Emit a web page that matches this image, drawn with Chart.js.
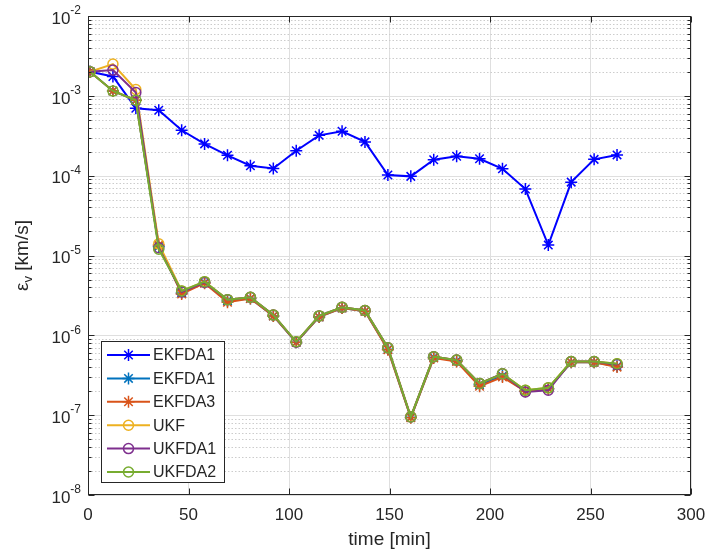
<!DOCTYPE html>
<html>
<head>
<meta charset="utf-8">
<script src="https://cdn.jsdelivr.net/npm/chart.js@4.4.0/dist/chart.umd.min.js"></script>
<style>
  html, body { margin: 0; padding: 0; background: #fff; }
  #wrap { width: 709px; height: 554px; }
</style>
</head>
<body>
<div id="wrap"><canvas id="errChart" width="709" height="554"></canvas></div>
<script>
// sample times [min]
const times = [1, 12.4, 23.8, 35.2, 46.6, 58, 69.4, 80.8, 92.2, 103.6, 115, 126.4,
               137.8, 149.2, 160.6, 172, 183.4, 194.8, 206.2, 217.6, 229, 240.4, 251.8, 263.2];

// velocity error per filter [km/s]
const ekfda1 = [2.0e-3, 1.75e-3, 7.0e-4, 6.6e-4, 3.7e-4, 2.5e-4, 1.8e-4, 1.33e-4, 1.23e-4, 2.05e-4, 3.2e-4, 3.6e-4,
                2.65e-4, 1.02e-4, 9.8e-5, 1.58e-4, 1.75e-4, 1.63e-4, 1.22e-4, 6.8e-5, 1.35e-5, 8.3e-5, 1.6e-4, 1.82e-4];
const ekfda2 = [2.0e-3, 1.15e-3, 8.8e-4, 1.3e-5, 3.4e-6, 4.6e-6, 2.7e-6, 2.9e-6, 1.75e-6, 8.2e-7, 1.7e-6, 2.2e-6,
                2.0e-6, 6.7e-7, 9.4e-8, 5.3e-7, 4.8e-7, 2.4e-7, 3.1e-7, 2.0e-7, 2.15e-7, 4.6e-7, 4.6e-7, 4.1e-7];
const ekfda3 = [2.0e-3, 1.15e-3, 8.8e-4, 1.35e-5, 3.3e-6, 4.5e-6, 2.6e-6, 2.9e-6, 1.75e-6, 8.2e-7, 1.7e-6, 2.2e-6,
                2.0e-6, 6.6e-7, 9.3e-8, 5.2e-7, 4.7e-7, 2.3e-7, 3.0e-7, 2.0e-7, 2.15e-7, 4.6e-7, 4.6e-7, 4.0e-7];
const ukf    = [2.0e-3, 2.5e-3, 1.2e-3, 1.4e-5, 3.6e-6, 4.7e-6, 2.8e-6, 3.0e-6, 1.8e-6, 8.3e-7, 1.75e-6, 2.25e-6,
                2.05e-6, 7.0e-7, 9.6e-8, 5.4e-7, 4.9e-7, 2.5e-7, 3.3e-7, 2.05e-7, 2.2e-7, 4.7e-7, 4.7e-7, 4.4e-7];
const ukfda1 = [2.0e-3, 2.1e-3, 1.1e-3, 1.25e-5, 3.5e-6, 4.6e-6, 2.8e-6, 3.0e-6, 1.8e-6, 8.2e-7, 1.75e-6, 2.25e-6,
                2.05e-6, 7.0e-7, 9.5e-8, 5.4e-7, 4.9e-7, 2.5e-7, 3.3e-7, 1.95e-7, 2.05e-7, 4.7e-7, 4.7e-7, 4.3e-7];
const ukfda2 = [2.0e-3, 1.15e-3, 8.8e-4, 1.2e-5, 3.6e-6, 4.7e-6, 2.8e-6, 3.0e-6, 1.8e-6, 8.3e-7, 1.75e-6, 2.25e-6,
                2.05e-6, 7.0e-7, 9.5e-8, 5.4e-7, 4.9e-7, 2.5e-7, 3.3e-7, 2.05e-7, 2.2e-7, 4.7e-7, 4.7e-7, 4.4e-7];

const seriesNames = ['EKFDA1', 'EKFDA1', 'EKFDA3', 'UKF', 'UKFDA1', 'UKFDA2'];
const xTicks = [0, 50, 100, 150, 200, 250, 300];
const yDecades = [-8, -7, -6, -5, -4, -3, -2];

const seriesValues = [ekfda1, ekfda2, ekfda3, ukf, ukfda1, ukfda2];
const colors = ['#0000FF', '#0072BD', '#D95319', '#EDB120', '#7E2F8E', '#77AC30'];
const markers = ['star', 'star', 'star', 'circle', 'circle', 'circle'];
const FONT = "'Liberation Sans', Arial, sans-serif";
const TEXT = '#262626';

function drawMarker(ctx, style, x, y, color) {
    ctx.save();
    ctx.strokeStyle = color;
    ctx.lineWidth = 1.5;
    ctx.beginPath();
    if (style === 'star') {
        const r = 6, d = r * Math.SQRT1_2;
        ctx.moveTo(x - r, y); ctx.lineTo(x + r, y);
        ctx.moveTo(x, y - r); ctx.lineTo(x, y + r);
        ctx.moveTo(x - d, y - d); ctx.lineTo(x + d, y + d);
        ctx.moveTo(x - d, y + d); ctx.lineTo(x + d, y - d);
    } else {
        ctx.arc(x, y, 5, 0, Math.PI * 2);
    }
    ctx.stroke();
    ctx.restore();
}

// MATLAB-like axes: log grid, inward ticks, box, labels and legend
const matlabAxes = {
    id: 'matlabAxes',
    beforeDatasetsDraw(chart) {
        const {ctx, chartArea: a, scales: {y}} = chart;
        ctx.save();
        for (let d = -8; d < -2; d++) {
            for (let m = 2; m <= 9; m++) {
                const py = Math.round(y.getPixelForValue(m * Math.pow(10, d))) + 0.5;
                ctx.strokeStyle = '#cccccc';
                ctx.lineWidth = 1;
                ctx.setLineDash([1.5, 2]);
                ctx.beginPath();
                ctx.moveTo(a.left, py); ctx.lineTo(a.right, py);
                ctx.stroke();
            }
        }
        ctx.setLineDash([]);
        yDecades.forEach(d => {
            const py = Math.round(y.getPixelForValue(Math.pow(10, d))) + 0.5;
            ctx.strokeStyle = '#dfdfdf';
            ctx.beginPath();
            ctx.moveTo(a.left, py); ctx.lineTo(a.right, py);
            ctx.stroke();
        });
        ctx.restore();
    },
    afterDraw(chart) {
        const {ctx, chartArea: a, scales: {x, y}} = chart;
        ctx.save();
        ctx.strokeStyle = TEXT;
        ctx.lineWidth = 1;
        const L = Math.round(a.left) + 0.5, R = Math.round(a.right) - 0.5;
        const T = Math.round(a.top) + 0.5, B = Math.round(a.bottom) - 0.5;
        ctx.beginPath();
        // ticks on x
        xTicks.forEach(v => {
            const px = Math.round(x.getPixelForValue(v)) + 0.5;
            ctx.moveTo(px, B); ctx.lineTo(px, B - 6);
            ctx.moveTo(px, T); ctx.lineTo(px, T + 6);
        });
        // ticks on y
        for (let d = -8; d <= -2; d++) {
            for (let m = 1; m <= 9; m++) {
                if (d === -2 && m > 1) break;
                const py = Math.round(y.getPixelForValue(m * Math.pow(10, d))) + 0.5;
                const len = m === 1 ? 6 : 3;
                ctx.moveTo(L, py); ctx.lineTo(L + len, py);
                ctx.moveTo(R, py); ctx.lineTo(R - len, py);
            }
        }
        ctx.stroke();
        ctx.strokeRect(L, T, R - L, B - T);

        // y tick labels 10^d
        ctx.fillStyle = TEXT;
        ctx.textBaseline = 'middle';
        ctx.textAlign = 'left';
        yDecades.forEach(d => {
            const py = y.getPixelForValue(Math.pow(10, d));
            ctx.font = '17px ' + FONT;
            const wb = ctx.measureText('10').width;
            ctx.font = '12px ' + FONT;
            const sup = String(d);
            const ws = ctx.measureText(sup).width;
            const x0 = 81 - ws - wb;
            ctx.font = '17px ' + FONT;
            ctx.fillText('10', x0, py + 3);
            ctx.font = '12px ' + FONT;
            ctx.fillText(sup, x0 + wb, py - 5);
        });

        // x title
        ctx.font = '19px ' + FONT;
        ctx.textAlign = 'center';
        ctx.fillText('time [min]', (a.left + a.right) / 2, 540);

        // y title: epsilon_v [km/s]
        ctx.save();
        ctx.translate(23, (a.top + a.bottom) / 2);
        ctx.rotate(-Math.PI / 2);
        ctx.textAlign = 'left';
        ctx.font = '19px ' + FONT;
        const wEps = ctx.measureText('\u03b5').width;
        const wRest = ctx.measureText(' [km/s]').width;
        ctx.font = '13px ' + FONT;
        const wSub = ctx.measureText('v').width;
        let tx = -(wEps + wSub + wRest) / 2;
        ctx.font = '19px ' + FONT;
        ctx.fillText('\u03b5', tx, 0);
        ctx.font = '13px ' + FONT;
        ctx.fillText('v', tx + wEps, 5);
        ctx.font = '19px ' + FONT;
        ctx.fillText(' [km/s]', tx + wEps + wSub, 0);
        ctx.restore();

        // legend box
        const lx = 101.5, ly = 341.5, lw = 123, lh = 141;
        ctx.fillStyle = '#ffffff';
        ctx.fillRect(lx, ly, lw, lh);
        ctx.strokeStyle = TEXT;
        ctx.strokeRect(lx, ly, lw, lh);
        ctx.font = '16px ' + FONT;
        ctx.textAlign = 'left';
        ctx.textBaseline = 'middle';
        seriesNames.forEach((name, i) => {
            const ry = 355 + i * 23.4;
            ctx.strokeStyle = colors[i];
            ctx.lineWidth = 2;
            ctx.beginPath();
            ctx.moveTo(107, ry); ctx.lineTo(150, ry);
            ctx.stroke();
            drawMarker(ctx, markers[i], 128.5, ry, colors[i]);
            ctx.fillStyle = TEXT;
            ctx.fillText(name, 153, ry + 1);
        });
        ctx.restore();
    }
};

new Chart(document.getElementById('errChart'), {
    type: 'line',
    data: {
        datasets: seriesValues.map((vals, i) => ({
            label: seriesNames[i],
            data: times.map((t, k) => ({x: t, y: vals[k]})),
            borderColor: colors[i],
            backgroundColor: colors[i],
            borderWidth: 2,
            pointStyle: markers[i],
            pointRadius: markers[i] === 'star' ? 6 : 5,
            pointBorderWidth: 1.5,
            pointBorderColor: colors[i],
            pointBackgroundColor: 'rgba(0,0,0,0)',
            tension: 0,
            order: seriesNames.length - 1 - i
        }))
    },
    options: {
        responsive: false,
        animation: false,
        devicePixelRatio: 1,
        layout: { padding: { left: 0, right: 18, top: 16, bottom: 0 } },
        plugins: {
            legend: { display: false },
            tooltip: { enabled: false }
        },
        scales: {
            x: {
                type: 'linear',
                min: 0,
                max: 300,
                afterFit: s => {
                    s.height = 59;
                    s.paddingLeft = 0;
                    s.paddingRight = 0;
                },
                ticks: {
                    stepSize: 50,
                    color: TEXT,
                    font: { family: FONT, size: 17 },
                    padding: 10,
                    maxRotation: 0
                },
                grid: { color: '#dfdfdf', drawTicks: false },
                border: { display: false }
            },
            y: {
                type: 'logarithmic',
                min: 1e-8,
                max: 1e-2,
                afterFit: s => { s.width = 88; },
                ticks: { display: false },
                grid: { display: false },
                border: { display: false }
            }
        }
    },
    plugins: [matlabAxes]
});
</script>
</body>
</html>
